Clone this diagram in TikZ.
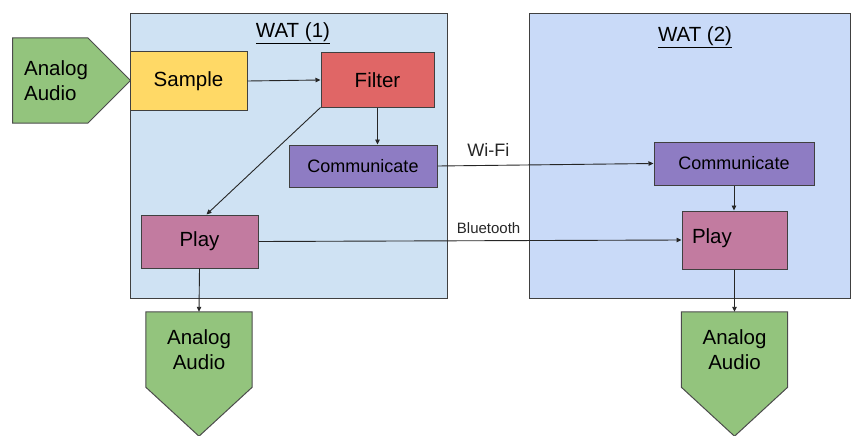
\documentclass[tikz,border=0pt]{standalone}
\usepackage{fontspec}
\setmainfont{Liberation Sans}
\usetikzlibrary{positioning, arrows.meta, calc, backgrounds}

\definecolor{audiogreen}{HTML}{93C47D}
\definecolor{sampleyellow}{HTML}{FFD966}
\definecolor{filterred}{HTML}{E06666}
\definecolor{commpurple}{HTML}{8E7CC3}
\definecolor{playpink}{HTML}{C27BA0}
\definecolor{watone}{HTML}{CFE2F3}
\definecolor{wattwo}{HTML}{C9DAF8}

\begin{document}
\begin{tikzpicture}[
  x=1pt, y=-1pt,
  every node/.style = {font=\fontsize{20.5}{25}\selectfont},
  wat/.style = {draw=black!75, line width=1pt, anchor=north west, inner sep=0pt},
  block/.style = {draw=black!75, line width=1pt, inner sep=0pt, align=center},
  audio/.style = {inner sep=0pt, align=center},
  audioshape/.style = {draw=black!70, fill=audiogreen, line width=1pt, line join=miter},
  arr/.style = {-{Triangle[length=5pt,width=4.5pt]}, line width=0.9pt, black!85},
  small/.style = {font=\fontsize{18}{22}\selectfont}
]
  \useasboundingbox (0,0) rectangle (851,436);

  % Place the two WAT boxes
  \node[wat, fill=watone, minimum width=317pt, minimum height=285pt] (wat_1) at (130,13) {};
  \node[wat, fill=wattwo, minimum width=321pt, minimum height=285pt] (wat_2) at (529,13) {};
  \node[] (title_1) at (293,33) {\underline{WAT (1)}};
  \node[] (title_2) at (695,37) {\underline{WAT (2)}};

  % Audio in and out (text part, the arrow shapes go behind)
  \node[audio, align=left] (in_1) at (56,80.5) {Analog\\Audio};
  \node[audio, minimum width=106pt, minimum height=75pt] (out_1) at (199,349.5) {Analog\\Audio};
  \node[audio, minimum width=106pt, minimum height=75pt] (out_2) at (734.5,349.5) {Analog\\Audio};

  \begin{pgfonlayer}{background}
    \draw[audioshape]
      (12.7,38) -- (88,38) -- (130.5,80.5) -- (88,123) -- (12.7,123) -- cycle;
    \draw[audioshape]
      (out_1.north west) -- (out_1.north east) -- (out_1.south east)
        -- ($(out_1.south)+(0,49)$) -- (out_1.south west) -- cycle;
    \draw[audioshape]
      (out_2.north west) -- (out_2.north east) -- (out_2.south east)
        -- ($(out_2.south)+(0,49)$) -- (out_2.south west) -- cycle;
  \end{pgfonlayer}

  % Blocks of the first WAT
  \node[block, fill=sampleyellow, minimum width=117pt, minimum height=58pt] (sample_1) at (188.5,81) {Sample};
  \node[block, fill=filterred, minimum width=113pt, minimum height=54pt] (filter_1) at (377.5,80) {Filter};
  \node[block, fill=commpurple, small, minimum width=148pt, minimum height=42pt] (comm_1) at (363,166) {Communicate};
  \node[block, fill=playpink, minimum width=117pt, minimum height=53pt] (play_1) at (199.5,241.5) {Play};

  % Blocks of the second WAT
  \node[block, fill=commpurple, small, minimum width=160pt, minimum height=43pt] (comm_2) at (734,163.5) {Communicate};
  \node[block, fill=playpink, minimum height=58pt, text width=85pt, align=left, inner xsep=10pt, text depth=8pt] (play_2) at (734.5,240) {Play};

  % Connectors
  \draw[arr] (sample_1.east) -- (filter_1.west);
  \draw[arr] (filter_1.south) -- (filter_1.south |- comm_1.north);
  \draw[arr] (filter_1.south west) -- ([xshift=7pt]play_1.north);
  \draw[arr] (comm_1.east) -- (comm_2.west) node [pos=0.235, above=5pt, small] {Wi-Fi};
  \draw[arr] (play_1.east) -- (play_2.west) node [pos=0.544, above=3pt, font=\fontsize{15}{18}\selectfont] {Bluetooth};
  \draw[arr] (comm_2.south) -- (comm_2.south |- play_2.north);
  \draw[arr] (play_1.south) -- (out_1.north);
  \draw[arr] (play_2.south) -- (out_2.north);
\end{tikzpicture}
\end{document}
